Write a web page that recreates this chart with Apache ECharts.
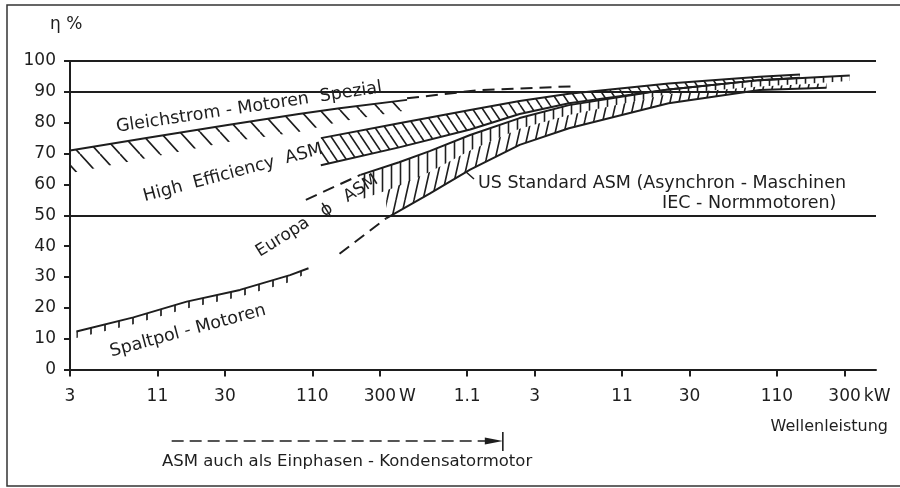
<!DOCTYPE html>
<html>
<head>
<meta charset="utf-8">
<script src="https://cdn.jsdelivr.net/npm/echarts@6.0.0/dist/echarts.min.js"></script>
<style>
  html, body { margin: 0; padding: 0; background: #fff; }
  #chart { width: 900px; height: 488px; }
</style>
</head>
<body>
<div id="chart"></div>
<script>
// x axis: Wellenleistung in W (log scale), y axis: Wirkungsgrad in %
const tickW = [3, 11, 30, 110, 300, 1100, 3000, 11000, 30000, 110000, 300000]
const tickText = ['3', '11', '30', '110', '300 W', '1.1', '3', '11', '30', '110', '300 kW']
const yLines = [50, 90, 100]

// Gleichstrom-Motoren Spezial
const dcW = [3, 10, 32, 90, 165, 450]
const dcTop = [71, 75.3, 79.3, 82.8, 84.7, 87.4]
const dcBot = [63.6, 68.8, 73.8, 77.0, 80.3, 84.0]
const dcDashW = [450, 1330, 5300]
const dcDash = [87.9, 90.6, 91.8]

// High Efficiency ASM
const heW = [125, 400, 1150, 2400, 5000, 22000, 85000, 155000]
const heTop = [75, 79.8, 84.1, 87, 89.4, 92.7, 94.9, 95.6]
const heBot = [66.2, 72.0, 77.8, 82.8, 86.3, 90.8, 93.8, 94.6]

// Europa ASM
const euW = [225, 400, 630, 1150, 2400, 5000, 22000, 85000, 325000]
const euTop = [63.1, 67.2, 70.8, 76, 81.5, 85.7, 90.8, 93.8, 95.3]
const euBot = [55, 59.5, 64, 71, 78, 82.5, 89.3, 91.7, 93.5]
const euDashW = [100, 225]
const euDash = [55, 63.1]

// US Standard ASM
const usW = [330, 630, 1150, 2400, 5000, 22000, 85000, 230000]
const usTop = [58, 64, 71, 78, 82.5, 89.3, 91.7, 92.8]
const usBot = [49, 57, 64.8, 72.8, 78.2, 86.3, 90.6, 91.3]
const usDashW = [165, 330]
const usDash = [37.5, 49]

// Spaltpol-Motoren
const spW = [3.3, 7.7, 17, 37.5, 79, 104]
const spTop = [12.3, 16.9, 22, 25.8, 30.6, 32.8]
const spBot = [10.2, 14.7, 19.8, 23.6, 28.4, 31.5]

// Einphasen-Kondensatormotor range (arrow below the axis)
const capW = [13.6, 1870]

const ink = '#1e1e1e'
const fam = '"DejaVu Sans", sans-serif'
const lg = Math.log10
const pts = (xs, ys) => xs.map((x, i) => [lg(x), ys[i]])

// hatch tile for the bands
function hatch(w, h, kind, lw) {
  const c = document.createElement('canvas')
  c.width = w
  c.height = h
  const g = c.getContext('2d')
  g.strokeStyle = ink
  g.lineWidth = lw
  g.beginPath()
  if (kind === 'vert') {
    g.moveTo(w / 2, 0); g.lineTo(w / 2, h)
  } else {
    for (const k of [-1, 0, 1]) {
      if (kind === 'back') { g.moveTo(k * w, 0); g.lineTo(k * w + w, h) }
      else { g.moveTo(k * w, h); g.lineTo(k * w + w, 0) }
    }
  }
  g.stroke()
  return c
}

function band(xs, top, bot, img) {
  return {
    type: 'custom',
    silent: true,
    z: 1,
    data: xs.map((x, i) => [lg(x), top[i], bot[i]]),
    renderItem: (params, api) => {
      if (params.dataIndex !== 0) return null
      const up = xs.map((x, i) => api.coord([lg(x), top[i]]))
      const dn = xs.map((x, i) => api.coord([lg(x), bot[i]])).reverse()
      return {
        type: 'polygon',
        shape: { points: up.concat(dn) },
        style: { fill: { image: img, repeat: 'repeat' }, stroke: null }
      }
    }
  }
}

function line(xs, ys, dashed, extra) {
  return Object.assign({
    type: 'line',
    data: pts(xs, ys),
    symbol: 'none',
    silent: true,
    z: 3,
    lineStyle: { color: ink, width: 2, type: dashed ? [12, 7] : 'solid' }
  }, extra || {})
}

const chart = echarts.init(document.getElementById('chart'))

const option = {
  animation: false,
  backgroundColor: '#fff',
  grid: { left: 70, right: 24, top: 61, bottom: 118.5 },
  xAxis: {
    type: 'value',
    min: lg(3),
    max: lg(480000),
    axisLine: { show: true, onZero: false, lineStyle: { color: ink, width: 2 } },
    axisTick: { show: true, length: 7, customValues: tickW.map(lg), lineStyle: { color: ink, width: 2 } },
    axisLabel: {
      customValues: tickW.map(lg),
      margin: 19,
      fontSize: 17,
      fontFamily: fam,
      color: ink,
      formatter: v => {
        const i = tickW.findIndex(t => Math.abs(lg(t) - v) < 1e-6)
        if (i < 0) return ''
        const s = tickText[i]
        if (s.indexOf(' ') < 0) return s
        const [n, u] = s.split(' ')
        return '{p' + u + '| }' + n + '{u|' + u + '}'
      },
      rich: {
        pW: { width: 20, fontSize: 17, fontFamily: fam },
        pkW: { width: 30, fontSize: 17, fontFamily: fam },
        u: { padding: [0, 0, 0, 3], fontSize: 17, fontFamily: fam, color: ink }
      }
    },
    splitLine: { show: false }
  },
  yAxis: {
    type: 'value',
    min: 0,
    max: 100,
    interval: 10,
    axisLine: { show: true, lineStyle: { color: ink, width: 2 } },
    axisTick: { show: true, length: 6, lineStyle: { color: ink, width: 2 } },
    axisLabel: { margin: 14, fontSize: 17, fontFamily: fam, color: ink },
    splitLine: { show: false }
  },
  series: [
    band(dcW, dcTop, dcBot, hatch(20, 22, 'back', 1.7)),
    band(heW, heTop, heBot, hatch(10, 15, 'back', 1.6)),
    band(euW, euTop, euBot, hatch(9, 9, 'vert', 1.6)),
    band(usW, usTop, usBot, hatch(9, 40, 'fwd', 1.6)),
    band(spW, spTop, spBot, hatch(14, 14, 'vert', 1.7)),
    line(dcW, dcTop, false),
    line(dcDashW, dcDash, true),
    line(heW, heTop, false),
    line(heW, heBot, false),
    line(euW, euTop, false),
    line(euDashW, euDash, true),
    line(usW, usBot, false),
    line(usDashW, usDash, true),
    line(spW, spTop, false, {
      markLine: {
        silent: true,
        symbol: 'none',
        label: { show: false },
        lineStyle: { color: ink, width: 2, type: 'solid' },
        data: yLines.map(v => ({ yAxis: v }))
      }
    })
  ]
}

chart.setOption(option)

// texts and the range arrow below the axis
const deg = d => d * Math.PI / 180
const txt = (text, x, y, size, rot, align) => ({
  type: 'text', x, y, rotation: deg(rot || 0), silent: true,
  style: { text, fill: ink, font: size + 'px ' + fam, align: align || 'center', verticalAlign: 'middle' }
})
const ax0 = chart.convertToPixel({ xAxisIndex: 0 }, lg(capW[0]))
const ax1 = chart.convertToPixel({ xAxisIndex: 0 }, lg(capW[1]))
const ay = 441

chart.setOption({
  graphic: {
    elements: [
      { type: 'rect', silent: true, shape: { x: 7, y: 5, width: 920, height: 481 }, style: { fill: 'none', stroke: '#333', lineWidth: 1.5 } },
      txt('η %', 50, 25, 17, 0, 'left'),
      txt('Gleichstrom - Motoren  Spezial', 249, 107.5, 17.5, 8.5),
      txt('High  Efficiency  ASM', 233, 173, 17.5, 15),
      txt('Europa   ϕ   ASM', 317, 216, 17, 32),
      txt('Spaltpol - Motoren', 188, 331, 17.5, 15.2),
      txt('US Standard ASM (Asynchron - Maschinen', 478, 183, 17.5, 0, 'left'),
      txt('IEC - Normmotoren)', 662, 203, 17.5, 0, 'left'),
      { type: 'line', silent: true, shape: { x1: 465, y1: 171, x2: 474, y2: 179 }, style: { stroke: ink, lineWidth: 1.5 } },
      txt('Wellenleistung', 888, 427, 16, 0, 'right'),
      txt('ASM auch als Einphasen - Kondensatormotor', 162, 462, 16.5, 0, 'left'),
      { type: 'line', silent: true, shape: { x1: ax0, y1: ay, x2: ax1 - 16, y2: ay }, style: { stroke: ink, lineWidth: 1.6, lineDash: [12, 6] } },
      { type: 'polygon', silent: true, shape: { points: [[ax1 - 18, ay - 3.5], [ax1, ay], [ax1 - 18, ay + 3.5]] }, style: { fill: ink } },
      { type: 'line', silent: true, shape: { x1: ax1, y1: ay - 9, x2: ax1, y2: ay + 10 }, style: { stroke: ink, lineWidth: 1.6 } }
    ]
  }
})

window.addEventListener('resize', () => chart.resize())
</script>
</body>
</html>
